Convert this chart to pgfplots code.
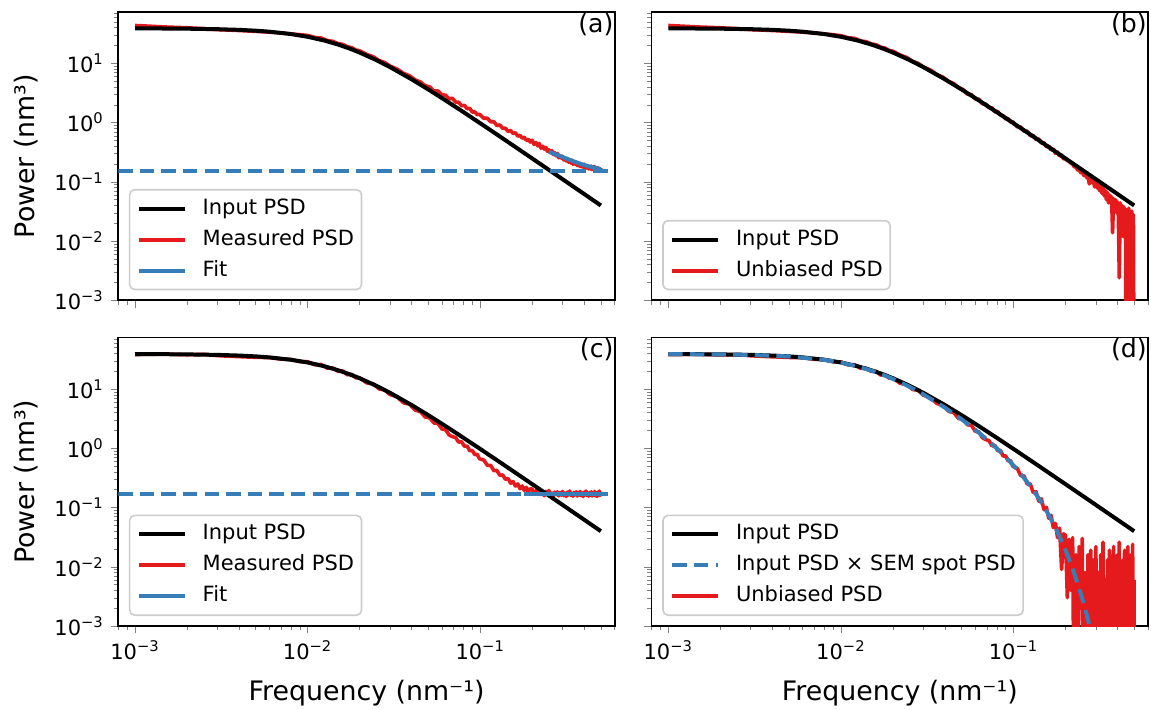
\documentclass[border=0pt]{standalone}
\usepackage{fontspec}
\setmainfont{DejaVu Sans}
\usepackage{pgfplots}
\usepackage{pgfplotstable}
\pgfplotsset{compat=1.18}

\definecolor{psdred}{HTML}{E41A1C}
\definecolor{psdblue}{HTML}{377EB8}

% input PSD (smooth)
\pgfplotstableread{
f I
0.001 38.85
0.0015 38.66
0.002 38.40
0.003 37.67
0.004 36.71
0.005 35.53
0.006 34.19
0.008 31.20
0.010 28.04
0.0125 24.22
0.015 20.76
0.0175 17.76
0.020 15.22
0.025 11.33
0.030 8.636
0.040 5.379
0.050 3.622
0.060 2.589
0.070 1.936
0.080 1.500
0.100 0.9735
0.125 0.6287
0.150 0.4387
0.200 0.2480
0.250 0.1591
0.300 0.1106
0.350 0.0813
0.400 0.0623
0.450 0.0492
0.500 0.0399
}\inputpsd

% input PSD x SEM spot PSD
\pgfplotstableread{
f P
0.001 38.85
0.002 38.39
0.003 37.65
0.005 35.47
0.008 31.07
0.010 27.86
0.0125 23.98
0.015 20.46
0.0175 17.42
0.020 14.84
0.025 10.89
0.030 8.153
0.040 4.856
0.050 3.086
0.060 2.056
0.070 1.415
0.080 0.996
0.090 0.7116
0.100 0.5133
0.110 0.3725
0.125 0.2313
0.140 0.1434
0.150 0.1039
0.160 0.07502
0.175 0.04555
0.190 0.02725
0.200 0.01917
0.215 0.01115
0.225 0.00768
0.240 0.00433
0.250 0.00291
0.265 0.00158
0.275 0.00104
0.290 0.00054
0.300 0.00035
}\spotpsd

% fit in (a)
\pgfplotstableread{
f F
0.25 0.320
0.27 0.295
0.29 0.272
0.31 0.252
0.33 0.235
0.35 0.220
0.37 0.207
0.40 0.192
0.43 0.181
0.46 0.172
0.50 0.164
}\fita

% measured / unbiased PSDs: A=(a) B=(b) C=(c) D=(d)
\pgfplotstableread{
f A B C D
0.001 43.5 43.5 38.2 38.0
0.0015 41.0 41.0 38.9 38.7
0.002 39.8 39.8 37.9 37.7
0.0025 38.5 38.5 38.4 38.2
0.003 37.0 37.0 36.6 36.4
0.004 35.8 35.8 35.2 35.0
0.005 34.6 34.6 34.3 34.1
0.006 33.6 33.6 33.9 33.7
0.007 32.6 32.6 32.0 31.8
0.008 31.3 31.3 31.6 31.4
0.009 30.4 30.4 29.0 28.8
0.010 29.6 29.3 28.9 28.7
0.011 27.3 27.0 25.7 25.5
0.012 26.7 26.4 25.9 25.7
0.013 24.2 23.9 22.5 22.3
0.014 23.5 23.2 22.6 22.4
0.015 21.5 21.2 20.0 19.8
0.016 20.9 20.6 20.1 19.9
0.017 19.0 18.7 17.4 17.2
0.018 18.4 18.1 17.7 17.5
0.019 16.8 16.5 15.5 15.3
0.020 16.3 16.0 15.5 15.3
0.022 14.1 13.8 12.7 12.5
0.024 12.9 12.6 12.2 12.0
0.026 11.1 10.8 10.0 9.83
0.028 10.3 10.0 9.67 9.50
0.030 9.0 8.7 8.07 7.90
0.033 8.0 7.7 7.37 7.20
0.036 6.75 6.45 5.85 5.68
0.039 6.15 5.85 5.53 5.36
0.042 5.25 4.95 4.40 4.23
0.045 4.85 4.55 4.18 4.01
0.048 4.20 3.90 3.36 3.19
0.051 4.00 3.60 3.25 3.08
0.054 3.40 3.02 2.67 2.50
0.057 3.41 2.96 2.61 2.44
0.060 2.94 2.51 2.11 1.94
0.063 2.90 2.48 2.06 1.89
0.066 2.51 2.08 1.68 1.51
0.069 2.57 2.05 1.57 1.40
0.072 2.21 1.78 1.52 1.35
0.075 2.20 1.77 1.27 1.10
0.078 1.92 1.51 1.29 1.12
0.081 1.95 1.54 1.08 0.910
0.084 1.71 1.33 1.09 0.920
0.087 1.74 1.31 0.908 0.738
0.090 1.50 1.15 0.917 0.747
0.093 1.52 1.17 0.782 0.612
0.096 1.36 1.02 0.792 0.622
0.099 1.38 1.03 0.665 0.495
0.105 1.18 0.850 0.631 0.461
0.110 1.18 0.840 0.515 0.345
0.115 1.03 0.718 0.512 0.342
0.120 1.03 0.715 0.419 0.249
0.125 0.89 0.604 0.421 0.251
0.130 0.91 0.605 0.349 0.179
0.135 0.80 0.519 0.355 0.185
0.140 0.80 0.528 0.298 0.128
0.145 0.71 0.450 0.310 0.140
0.150 0.735 0.456 0.257 0.092
0.155 0.654 0.391 0.274 0.101
0.160 0.675 0.402 0.230 0.066
0.165 0.59 0.345 0.250 0.074
0.170 0.607 0.360 0.208 0.046
0.175 0.547 0.304 0.231 0.054
0.180 0.564 0.318 0.194 0.031
0.185 0.50 0.272 0.219 0.045
0.190 0.521 0.283 0.182 0.009
0.195 0.468 0.243 0.208 0.036
0.200 0.503 0.245 0.204 0.034
0.205 0.428 0.228 0.171 0.003
0.210 0.462 0.222 0.193 0.029
0.215 0.404 0.206 0.172 0.004
0.220 0.443 0.200 0.197 0.031
0.225 0.369 0.178 0.165 1e-5
0.230 0.399 0.180 0.182 0.016
0.235 0.357 0.158 0.158 1e-5
0.240 0.382 0.165 0.187 0.022
0.245 0.328 0.142 0.167 0.002
0.250 0.347 0.150 0.194 0.030
0.255 0.310 0.128 0.162 1e-5
0.260 0.337 0.135 0.175 0.008
0.265 0.288 0.118 0.156 1e-5
0.270 0.312 0.124 0.182 0.016
0.275 0.274 0.092 0.166 1e-5
0.280 0.302 0.112 0.184 0.019
0.285 0.254 0.098 0.157 1e-5
0.290 0.278 0.104 0.179 0.013
0.295 0.251 0.082 0.162 1e-5
0.300 0.270 0.097 0.187 0.022
0.305 0.234 0.079 0.158 1e-5
0.310 0.250 0.088 0.175 0.008
0.315 0.225 0.071 0.153 1e-5
0.320 0.248 0.085 0.182 0.016
0.325 0.214 0.064 0.163 1e-5
0.330 0.234 0.078 0.190 0.026
0.335 0.208 0.058 0.160 1e-5
0.340 0.232 0.072 0.173 0.006
0.345 0.197 0.050 0.155 1e-5
0.350 0.217 0.066 0.180 0.013
0.355 0.198 0.044 0.165 0.002
0.360 0.215 0.060 0.184 0.019
0.365 0.188 0.047 0.156 1e-5
0.370 0.203 0.056 0.179 0.013
0.375 0.184 0.0138 0.162 1e-5
0.380 0.205 0.052 0.187 0.022
0.385 0.179 0.036 0.158 1e-5
0.390 0.196 0.050 0.175 0.008
0.395 0.176 0.030 0.153 1e-5
0.400 0.198 0.046 0.182 0.016
0.405 0.168 0.026 0.163 1e-5
0.410 0.187 0.0024 0.190 0.026
0.415 0.171 0.044 0.160 1e-5
0.420 0.188 0.022 0.173 0.006
0.425 0.165 0.040 0.155 1e-5
0.430 0.179 0.012 0.180 0.013
0.435 0.164 0.038 0.165 0.001
0.440 0.184 0.018 0.184 0.019
0.445 0.161 0.035 0.156 1e-5
0.450 0.179 1e-5 0.179 0.013
0.455 0.161 0.033 0.162 1e-5
0.460 0.181 0.008 0.187 0.022
0.465 0.155 0.036 0.158 1e-5
0.470 0.173 1e-5 0.175 0.008
0.475 0.158 0.030 0.153 1e-5
0.480 0.174 1e-5 0.182 0.016
0.485 0.153 0.032 0.163 1e-5
0.490 0.167 0.004 0.190 0.024
0.495 0.153 0.028 0.160 1e-5
0.500 0.172 1e-5 0.173 0.006
}\meas

% \tick holds the natural log of the tick value
\newcommand{\logtick}{%
  \pgfmathtruncatemacro{\tickexp}{round(\tick/ln(10))}%
  \pgfmathtruncatemacro{\tickabs}{abs(\tickexp)}%
  10\textsuperscript{\ifnum\tickexp<0 −\fi\tickabs}}

\newcommand{\tickfont}{\fontsize{10.5}{12.6}\selectfont}
\newcommand{\labfont}{\fontsize{13.4}{16}\selectfont}
\newcommand{\letterfont}{\fontsize{12.6}{15}\selectfont}

% shared look of the four axes
\pgfplotsset{
  every axis/.append style={
    scale only axis, width=248.3pt, height=144.3pt,
    xmin=8.0e-4, xmax=0.603, ymin=1e-3, ymax=74.3,
    tick pos=left, tick align=outside,
    major tick length=3.7pt, minor tick length=2.1pt,
    axis line style={line width=0.85pt},
    tick label style={font=\tickfont},
    xlabel style={font=\labfont},
    ylabel style={font=\labfont},
    legend cell align=left,
    legend style={
      at={(0,0)}, anchor=south west, xshift=5.3pt, yshift=5pt,
      draw=black!20, line width=0.8pt, rounded corners=2.5pt,
      fill=white, fill opacity=0.8, draw opacity=1, text opacity=1,
      inner xsep=3.7pt, inner ysep=4.2pt,
      font=\tickfont,
      row sep=5pt, column sep=7.8pt,
      nodes={inner sep=0pt, text height=8pt, text depth=2.5pt},
    },
  },
  legend image code/.code={\draw[#1] (0pt,0pt) -- (23pt,0pt);},
}

\newcommand{\panel}[1]{\node[anchor=north east, inner sep=0pt, xshift=-0.5pt, yshift=-0.5pt,
  font=\letterfont] at (rel axis cs:1,1) {#1};}

\begin{document}
\begin{tikzpicture}

% (a)
\begin{loglogaxis}[at={(59.15pt,204.35pt)}, anchor=south west,
  xticklabel={\relax}, yticklabel={\logtick},
  ylabel={Power (nm³)},
  ylabel style={at={(axis description cs:-0.169,0.5)}, anchor=base}]
\addplot[psdred, line width=1.8pt, line join=round, forget plot] table[x=f, y=A] {\meas};
\addplot[black, line width=2pt, forget plot] table[x=f, y=I] {\inputpsd};
\addplot[psdblue, line width=2pt, dash pattern=on 7.2pt off 3.6pt, forget plot] coordinates {(8.0e-4,0.151) (0.603,0.151)};
\addplot[psdblue, line width=2pt, forget plot] table[x=f, y=F] {\fita};
\addlegendimage{black, line width=2pt}
\addlegendentry{Input PSD}
\addlegendimage{psdred, line width=2pt}
\addlegendentry{Measured PSD}
\addlegendimage{psdblue, line width=2pt}
\addlegendentry{Fit}
\panel{(a)}
\end{loglogaxis}

% (b)
\begin{loglogaxis}[at={(325.8pt,204.35pt)}, anchor=south west,
  xticklabel={\relax}, yticklabel={\relax}]
\addplot[psdred, line width=1.8pt, line join=round, forget plot] table[x=f, y=B] {\meas};
\addplot[black, line width=2pt, forget plot] table[x=f, y=I] {\inputpsd};
\addlegendimage{black, line width=2pt}
\addlegendentry{Input PSD}
\addlegendimage{psdred, line width=2pt}
\addlegendentry{Unbiased PSD}
\panel{(b)}
\end{loglogaxis}

% (c)
\begin{loglogaxis}[at={(59.15pt,41.5pt)}, anchor=south west,
  xticklabel={\logtick}, yticklabel={\logtick},
  ylabel={Power (nm³)}, xlabel={Frequency (nm⁻¹)},
  ylabel style={at={(axis description cs:-0.169,0.5)}, anchor=base},
  xlabel style={at={(axis description cs:0.5,-0.2564)}, anchor=base}]
\addplot[psdred, line width=1.8pt, line join=round, forget plot] table[x=f, y=C] {\meas};
\addplot[black, line width=2pt, forget plot] table[x=f, y=I] {\inputpsd};
\addplot[psdblue, line width=2pt, dash pattern=on 7.2pt off 3.6pt, forget plot] coordinates {(8.0e-4,0.17) (0.603,0.17)};
\addplot[psdblue, line width=2pt, forget plot] coordinates {(0.18,0.17) (0.5,0.17)};
\addlegendimage{black, line width=2pt}
\addlegendentry{Input PSD}
\addlegendimage{psdred, line width=2pt}
\addlegendentry{Measured PSD}
\addlegendimage{psdblue, line width=2pt}
\addlegendentry{Fit}
\panel{(c)}
\end{loglogaxis}

% (d)
\begin{loglogaxis}[at={(325.8pt,41.5pt)}, anchor=south west,
  xticklabel={\logtick}, yticklabel={\relax},
  xlabel={Frequency (nm⁻¹)},
  xlabel style={at={(axis description cs:0.5,-0.2564)}, anchor=base}]
\addplot[psdred, line width=1.8pt, line join=round, forget plot] table[x=f, y=D] {\meas};
\addplot[black, line width=2pt, forget plot] table[x=f, y=I] {\inputpsd};
\addplot[psdblue, line width=2pt, dash pattern=on 7.2pt off 3.6pt, forget plot] table[x=f, y=P] {\spotpsd};
\addlegendimage{black, line width=2pt}
\addlegendentry{Input PSD}
\addlegendimage{psdblue, line width=2pt, dash pattern=on 7.2pt off 3.6pt}
\addlegendentry{Input PSD × SEM spot PSD}
\addlegendimage{psdred, line width=2pt}
\addlegendentry{Unbiased PSD}
\panel{(d)}
\end{loglogaxis}

\pgfresetboundingbox
\path[use as bounding box] (0,0) rectangle (575.5pt,354.5pt);
\end{tikzpicture}
\end{document}
